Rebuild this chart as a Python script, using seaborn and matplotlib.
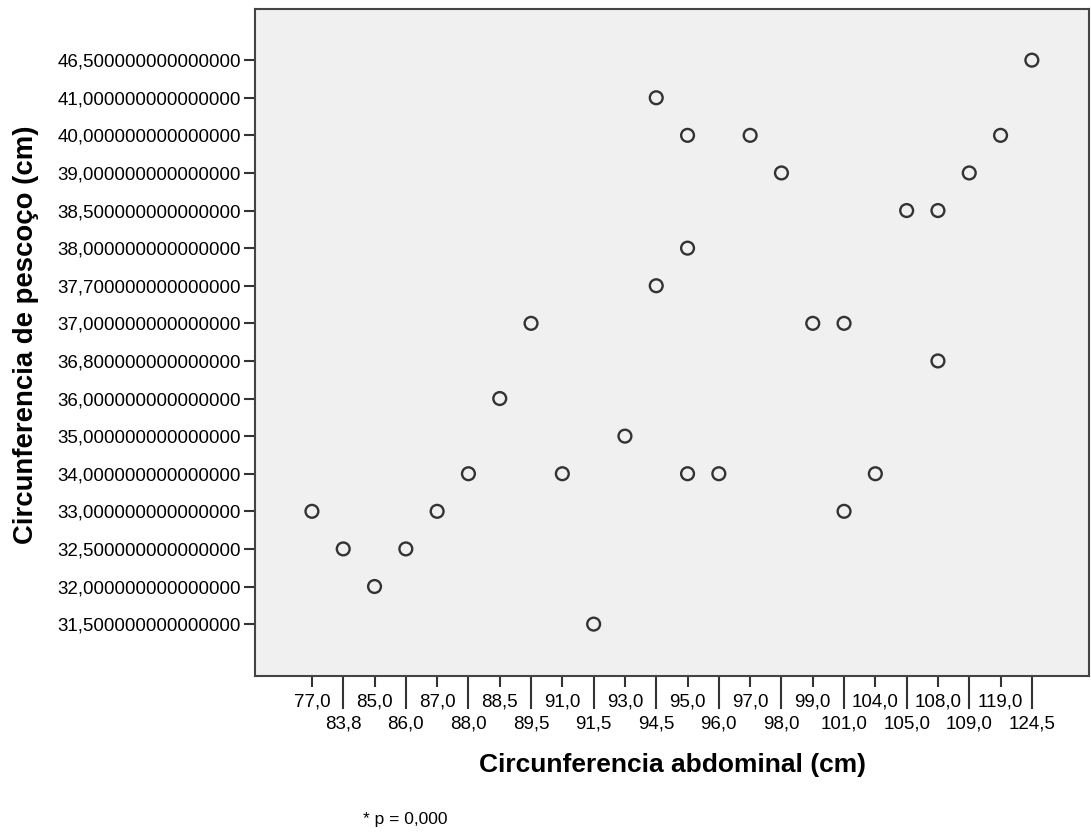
import seaborn as sns
import matplotlib.pyplot as plt
import numpy as np
import pandas as pd

# categorias dos eixos (como no SPSS, eixo categorico)
abd_cats = [77.0, 83.8, 85.0, 86.0, 87.0, 88.0, 88.5, 89.5, 91.0, 91.5, 93.0, 94.5,
            95.0, 96.0, 97.0, 98.0, 99.0, 101.0, 104.0, 105.0, 108.0, 109.0, 119.0, 124.5]
pesc_cats = [31.5, 32.0, 32.5, 33.0, 34.0, 35.0, 36.0, 36.8, 37.0, 37.7, 38.0, 38.5,
             39.0, 40.0, 41.0, 46.5]

# pontos observados
abdominal = [77.0, 83.8, 85.0, 86.0, 87.0, 88.0, 88.5, 89.5, 91.0, 91.5, 93.0, 94.5, 94.5,
             95.0, 95.0, 95.0, 96.0, 97.0, 98.0, 99.0, 101.0, 101.0, 104.0, 105.0, 108.0,
             108.0, 109.0, 119.0, 124.5]
pescoco = [33.0, 32.5, 32.0, 32.5, 33.0, 34.0, 36.0, 37.0, 34.0, 31.5, 35.0, 41.0, 37.7,
           40.0, 38.0, 34.0, 34.0, 40.0, 39.0, 37.0, 37.0, 33.0, 34.0, 38.5, 38.5,
           36.8, 39.0, 40.0, 46.5]

df = pd.DataFrame({'abd': abdominal, 'pesc': pescoco})
df['xi'] = pd.Categorical(df.abd, categories=abd_cats).codes
df['yi'] = pd.Categorical(df.pesc, categories=pesc_cats).codes

plt.rcParams['font.family'] = ['Liberation Sans', 'DejaVu Sans']

fig = plt.figure(figsize=(10.91, 8.36), dpi=100)
ax = fig.add_axes([0.2337, 0.1914, 0.7643, 0.7978])
ax.set_facecolor('#f0f0f0')

sns.scatterplot(data=df, x='xi', y='yi', ax=ax, s=85, facecolors='none',
                edgecolor='#333333', linewidth=1.7, marker='o')

ax.set_xlim(-1.82, len(abd_cats) - 1 + 1.82)
ax.set_ylim(-1.38, len(pesc_cats) - 1 + 1.36)

for sp in ax.spines.values():
    sp.set_color('#444444')
    sp.set_linewidth(1.5)

# eixo y
ax.set_yticks(range(len(pesc_cats)))
ax.set_yticklabels([f"{v:.1f}".replace('.', ',') + '0' * 14 for v in pesc_cats])
ax.tick_params(axis='y', length=8, width=1.5, color='#333333', labelsize=13.5, pad=2)

# eixo x com rotulos alternados (duas linhas)
idx = np.arange(len(abd_cats))
ax.set_xticks(idx[::2])
ax.set_xticklabels([f"{v:.1f}".replace('.', ',') for v in abd_cats[::2]])
ax.set_xticks(idx[1::2], minor=True)
ax.set_xticklabels([f"{v:.1f}".replace('.', ',') for v in abd_cats[1::2]], minor=True)
ax.tick_params(axis='x', which='major', length=8, width=1.5, color='#333333',
               labelsize=13.5, pad=4.5)
ax.tick_params(axis='x', which='minor', length=23.5, width=1.5, color='#333333',
               labelsize=13.5, pad=4.7)

ax.set_xlabel('')
ax.set_ylabel('')
fig.text(0.024, 0.599, 'Circunferencia de pescoço (cm)', fontsize=19.8, fontweight='bold',
         rotation=90, ha='center', va='center')
fig.text(0.616, 0.085, 'Circunferencia abdominal (cm)', fontsize=19, fontweight='bold',
         ha='center', va='center')
fig.text(0.333, 0.02, '* p = 0,000', fontsize=12.5, ha='left', va='center')

plt.savefig('out.png', dpi=100)
